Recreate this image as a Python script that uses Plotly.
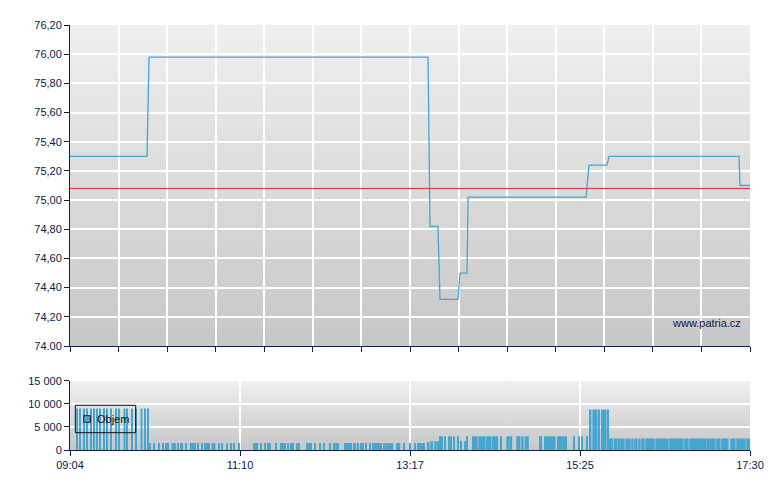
import base64
import plotly.graph_objects as go

# session from 09:04 to 17:30, x measured in minutes after the open
session_len = 506
time_ticks = [0, 126.5, 253, 379.5, 506]
time_labels = ["09:04", "11:10", "13:17", "15:25", "17:30"]

# price (trades, minutes after open)
price_t = [0, 57.3, 58.8, 266.4, 267.9, 273.8, 275.3, 288.7, 290.2, 295.4,
           296.2, 384.0, 386.2, 399.6, 401.1, 497.8, 498.6, 506]
price_v = [75.30, 75.30, 75.98, 75.98, 74.82, 74.82, 74.32, 74.32, 74.50, 74.50,
           75.02, 75.02, 75.24, 75.24, 75.30, 75.30, 75.10, 75.10]
ref_price = 75.08

price_ticks = [74.0, 74.2, 74.4, 74.6, 74.8, 75.0, 75.2, 75.4, 75.6, 75.8, 76.0, 76.2]
price_labels = ["74.00", "74,20", "74,40", "74,60", "74,80", "75,00",
                "75,20", "75,40", "75,60", "75,80", "76,00", "76,20"]

vol_ticks = [0, 5000, 10000, 15000]
vol_labels = ["0", "5 000", "10 000", "15 000"]

# volume runs: start minute, length in minutes, volume
vol_start = [
    4.5, 7.1, 9.7, 12.3, 14.9, 17.5, 19.3, 22.3, 24.9, 27.5, 30.5, 33.5, 36.1,
    39.8, 42.4, 45.4, 48.4, 52.5, 55.4, 57.3,
    59.2, 62.1, 65.5, 68.5, 71.1, 72.9, 75.5, 80.0, 81.9, 83.3, 85.6, 89.7,
    90.8, 92.3, 94.9, 97.5, 100.1, 101.2, 102.7, 105.3, 110.5, 113.1, 116.1,
    119.1, 122.0, 125.4,
    136.2, 137.9, 139.1, 141.9, 144.4, 146.8, 148.3, 152.8, 156.5, 158.0,
    159.8, 161.7, 163.9, 165.4, 168.4, 169.9, 175.8, 177.3, 178.6, 181.8,
    185.3, 189.0, 192.9, 196.2, 197.4, 203.9, 205.6, 207.1, 208.9, 210.6,
    213.8, 216.3, 217.8, 219.7, 223.2, 224.9, 226.7, 227.9, 229.4, 231.4,
    233.1, 234.6, 242.6, 248.3, 252.3, 256.7, 258.9, 260.4, 261.9, 263.4,
    265.6, 268.1, 270.9, 273.1, 274.6, 276.8, 278.8, 281.3, 283.5, 285.7,
    288.2, 290.4, 293.9, 295.3, 299.1, 303.9, 309.6, 314.0, 320.0, 324.7,
    327.7, 332.1, 335.8, 338.3, 349.0, 352.7, 362.4, 367.4, 368.6, 375.0,
    378.1, 380.8, 384.0,
    386.2, 388.7, 393.3, 395.1, 399.8,
    400.5, 401.8, 404.5, 407.9, 409.4, 413.2, 417.6, 419.8, 422.8, 425.0,
    428.0, 435.5, 445.9, 457.0, 460.8, 474.2, 475.6, 480.8, 484.6, 491.3,
    495.8, 503.2,
]
vol_len = [
    0.75, 0.75, 0.75, 0.75, 0.75, 0.75, 1.5, 0.75, 0.75, 0.75, 0.75, 0.75, 0.75,
    1.5, 0.75, 0.75, 0.75, 1.5, 0.75, 0.75,
    0.75, 0.75, 0.75, 0.75, 0.75, 0.75, 3.3, 0.75, 0.75, 0.75, 0.75, 0.75,
    0.75, 0.75, 0.75, 0.75, 0.75, 0.75, 0.75, 2.9, 0.75, 0.75, 0.75,
    0.75, 0.75, 0.75,
    0.75, 0.75, 0.75, 0.75, 0.75, 0.75, 0.75, 0.75, 0.75, 0.75,
    0.75, 0.75, 0.75, 0.75, 0.75, 0.75, 0.75, 0.75, 0.75, 0.75,
    0.75, 0.75, 0.75, 0.75, 2.7, 0.75, 0.75, 0.75, 0.75, 2.4,
    0.75, 0.75, 0.75, 0.75, 0.75, 0.75, 0.75, 0.75, 0.75, 0.75,
    0.75, 5.9, 3.1, 0.75, 0.75, 0.75, 0.75, 0.75, 0.75, 0.75,
    2.0, 2.0, 2.0, 1.3, 0.75, 0.75, 0.75, 0.75, 0.75, 0.75,
    0.75, 0.75, 1.3, 0.75, 4.3, 5.3, 4.0, 4.6, 0.75, 2.5,
    1.3, 3.1, 1.8, 3.1, 2.3, 8.6, 4.3, 0.75, 0.75, 0.75,
    0.75, 0.75, 0.75,
    1.8, 3.9, 1.0, 4.2, 0.6,
    0.6, 2.2, 3.0, 1.0, 3.3, 4.0, 1.8, 2.5, 1.8, 2.6,
    7.1, 10.0, 10.7, 3.4, 13.0, 0.8, 4.8, 3.3, 5.5, 4.0,
    7.0, 2.8,
]
vol_size = (
    [9000] * 20
    + [1500] * 26
    + [1500] * 50
    + [1700, 1900, 1900, 1900, 3000, 3000, 3000, 3000, 3000, 3000,
       3000, 2000, 1900, 3000, 3000, 3000, 3000, 3000, 3000, 3000,
       3000, 3000, 3000, 3000, 3000, 3000, 3000, 3000, 3000, 3000,
       3000, 3000, 3000]
    + [8800] * 5
    + [2500] * 22
)
vol_name = "Objem"

navy = "#0b2147"
blue = "#47a6d0"

svg = ('<svg xmlns="http://www.w3.org/2000/svg" width="10" height="100" '
       'viewBox="0 0 10 100" preserveAspectRatio="none">'
       '<defs><linearGradient id="g" x1="0" y1="0" x2="0" y2="1">'
       '<stop offset="0" stop-color="#efefef"/><stop offset="1" stop-color="#c7c7c7"/>'
       '</linearGradient></defs><rect width="10" height="100" fill="url(#g)"/></svg>')
grad = "data:image/svg+xml;base64," + base64.b64encode(svg.encode()).decode()

fig = go.Figure()

fig.add_trace(go.Scatter(
    x=price_t, y=price_v, mode="lines",
    line=dict(color=blue, width=1.3),
    showlegend=False, hoverinfo="skip",
))

fig.add_trace(go.Bar(
    x=vol_start, y=vol_size, width=vol_len, offset=0, name=vol_name,
    marker=dict(color=blue, line=dict(width=0)),
    xaxis="x2", yaxis="y2", showlegend=False, hoverinfo="skip",
))

axis_common = dict(
    showline=True, linecolor=navy, linewidth=1,
    ticks="outside", ticklen=5, tickcolor=navy, tickwidth=1,
    showgrid=True, gridcolor="white", gridwidth=1.5,
    zeroline=False, fixedrange=True,
)

# hand-drawn legend box (plotly's own legend is wider than the original)
legend_shapes = [
    dict(type="rect", xref="paper", yref="paper", x0=0.0078, x1=0.0966, y0=0.0407, y1=0.1052,
         line=dict(color="#111111", width=1), fillcolor="rgba(0,0,0,0)", layer="above"),
    dict(type="rect", xref="paper", yref="paper", x0=0.0201, x1=0.0301, y0=0.0652, y1=0.0807,
         line=dict(color="#222222", width=1), fillcolor=blue, layer="above"),
]

fig.update_layout(
    # the page adds an 8px body margin, so the figure is 8px smaller each way
    width=772, height=482,
    margin=dict(l=62, r=30, t=17, b=40),
    paper_bgcolor="white", plot_bgcolor="#dcdcdc",
    font=dict(family="Liberation Sans, Arial, sans-serif", size=11, color=navy),
    xaxis=dict(axis_common, domain=[0, 1], anchor="y", range=[0, session_len],
               tickvals=[i * session_len / 14 for i in range(15)], showticklabels=False),
    yaxis=dict(axis_common, domain=[0.2447, 1], anchor="x", range=[74, 76.2],
               tickvals=price_ticks, ticktext=price_labels),
    xaxis2=dict(axis_common, domain=[0, 1], anchor="y2", range=[0, session_len],
                tickvals=time_ticks, ticktext=time_labels),
    yaxis2=dict(axis_common, domain=[0, 0.1624], anchor="x2", range=[0, 15000],
                tickvals=vol_ticks, ticktext=vol_labels),
    images=[
        dict(source=grad, xref="x domain", yref="y domain", x=0, y=1, sizex=1, sizey=1,
             xanchor="left", yanchor="top", sizing="stretch", layer="below"),
        dict(source=grad, xref="x2 domain", yref="y2 domain", x=0, y=1, sizex=1, sizey=1,
             xanchor="left", yanchor="top", sizing="stretch", layer="below"),
    ],
    shapes=[
        dict(type="line", xref="x domain", yref="y", x0=0, x1=1, y0=ref_price, y1=ref_price,
             line=dict(color="#e8262d", width=1), layer="above"),
    ] + legend_shapes,
    annotations=[
        dict(text="www.patria.cz", xref="x domain", yref="y domain", x=0.99, y=0.072,
             xanchor="right", yanchor="middle", showarrow=False,
             font=dict(size=11, color=navy)),
        dict(text=vol_name, xref="paper", yref="paper", x=0.0363, y=0.0718,
             xanchor="left", yanchor="middle", showarrow=False,
             font=dict(size=11, color="#111111")),
    ],
    showlegend=False,
    barmode="overlay",
    hovermode=False,
)

fig.write_html("out.html", config={"displayModeBar": False})
